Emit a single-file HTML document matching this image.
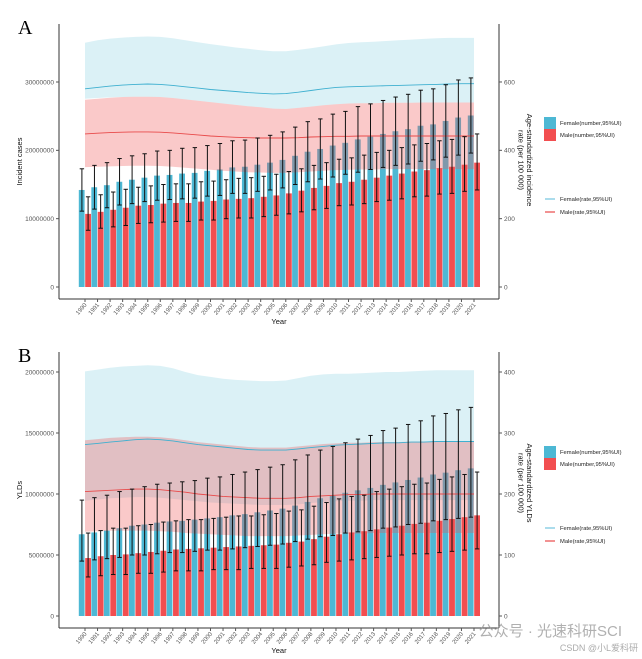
<!DOCTYPE html>
<html><head><meta charset="utf-8">
<style>
html,body{margin:0;padding:0;background:#fff;}
svg{display:block;font-family:"Liberation Sans",sans-serif;}
</style></head>
<body>
<svg id="chart" width="642" height="659" viewBox="0 0 642 659" xmlns="http://www.w3.org/2000/svg"></svg>
<script>
const years = [1990,1991,1992,1993,1994,1995,1996,1997,1998,1999,2000,2001,2002,2003,2004,2005,2006,2007,2008,2009,2010,2011,2012,2013,2014,2015,2016,2017,2018,2019,2020,2021];
// Panel A (millions)
const aFemaleN = [14.2,14.6,14.9,15.4,15.7,16.0,16.3,16.4,16.6,16.7,17.0,17.2,17.5,17.6,17.9,18.2,18.6,19.2,19.8,20.2,20.7,21.1,21.6,22.0,22.4,22.8,23.1,23.6,23.8,24.3,24.8,25.1];
const aFemaleHi = [17.3,17.8,18.2,18.8,19.2,19.5,19.9,20.0,20.3,20.4,20.7,21.0,21.4,21.5,21.8,22.2,22.7,23.4,24.2,24.6,25.3,25.7,26.4,26.8,27.3,27.8,28.2,28.8,29.0,29.6,30.3,30.6];
const aFemaleLo = [11.1,11.4,11.6,12.0,12.2,12.5,12.7,12.8,12.9,13.0,13.3,13.4,13.7,13.7,14.0,14.2,14.5,15.0,15.4,15.8,16.1,16.5,16.8,17.2,17.5,17.8,18.0,18.4,18.6,19.0,19.3,19.6];
const aMaleN = [10.7,11.0,11.3,11.6,11.9,12.0,12.2,12.3,12.3,12.5,12.6,12.8,12.9,13.0,13.2,13.4,13.7,14.1,14.5,14.8,15.2,15.4,15.7,16.0,16.3,16.6,16.9,17.1,17.4,17.6,17.9,18.2];
const aMaleHi = [13.2,13.5,13.9,14.3,14.6,14.8,15.0,15.1,15.1,15.4,15.5,15.7,15.9,16.0,16.2,16.5,16.9,17.3,17.8,18.2,18.7,18.9,19.3,19.7,20.0,20.4,20.8,21.0,21.4,21.6,22.0,22.4];
const aMaleLo = [8.3,8.6,8.8,9.0,9.3,9.4,9.5,9.6,9.6,9.8,9.8,10.0,10.1,10.1,10.3,10.5,10.7,11.0,11.3,11.5,11.9,12.0,12.2,12.5,12.7,12.9,13.2,13.3,13.6,13.7,14.0,14.2];
const aFemaleRate = [580,584,588,591,593,594,593,590,586,582,578,575,572,569,567,565,566,570,575,580,584,586,587,588,589,590,591,592,593,594,595,595];
const aFemaleRateHi = [715,722,727,730,732,733,732,728,722,716,711,706,701,697,693,690,690,694,699,704,710,714,716,718,720,722,724,726,728,729,729,729];
const aFemaleRateLo = [551,553,555,556,557,557,556,553,549,545,541,537,533,529,526,522,521,524,528,532,535,537,538,538,539,539,539,540,540,540,540,540];
const aMaleRate = [448,450,452,453,454,454,453,451,448,445,442,440,438,437,436,436,436,437,439,440,441,441,442,442,442,442,442,442,442,442,442,442];
const aMaleRateHi = [548,551,554,556,557,557,556,553,549,545,541,537,533,529,526,522,521,524,528,532,535,537,538,538,539,539,539,540,540,540,540,540];
const aMaleRateLo = [351,352,353,354,355,355,354,352,349,346,343,340,338,336,335,334,334,336,338,340,342,343,344,344,345,345,345,345,345,345,345,345];
// Panel B (millions)
const bFemaleN = [6.7,6.85,7.0,7.2,7.4,7.5,7.65,7.75,7.8,7.9,8.0,8.1,8.25,8.35,8.5,8.65,8.8,9.05,9.35,9.65,9.85,10.1,10.3,10.5,10.75,10.95,11.15,11.35,11.6,11.75,11.95,12.1];
const bFemaleHi = [9.5,9.7,9.9,10.2,10.4,10.6,10.8,10.9,11.0,11.1,11.3,11.4,11.6,11.8,12.0,12.2,12.4,12.8,13.2,13.6,13.9,14.2,14.5,14.8,15.2,15.4,15.7,16.0,16.4,16.6,16.9,17.1];
const bFemaleLo = [4.5,4.6,4.7,4.8,5.0,5.0,5.1,5.2,5.2,5.3,5.4,5.4,5.5,5.6,5.7,5.8,5.9,6.1,6.3,6.5,6.6,6.8,6.9,7.0,7.2,7.3,7.5,7.6,7.8,7.9,8.0,8.1];
const bMaleN = [4.75,4.9,5.0,5.05,5.15,5.25,5.35,5.45,5.5,5.55,5.6,5.65,5.7,5.75,5.8,5.85,6.0,6.1,6.3,6.5,6.7,6.85,6.95,7.1,7.25,7.4,7.55,7.65,7.8,7.95,8.1,8.25];
const bMaleHi = [6.8,7.0,7.2,7.2,7.4,7.5,7.7,7.8,7.9,7.9,8.0,8.1,8.2,8.2,8.3,8.4,8.6,8.7,9.0,9.3,9.6,9.8,9.9,10.2,10.4,10.6,10.8,10.9,11.2,11.4,11.6,11.8];
const bMaleLo = [3.2,3.3,3.4,3.4,3.5,3.5,3.6,3.7,3.7,3.7,3.8,3.8,3.8,3.9,3.9,3.9,4.0,4.1,4.2,4.4,4.5,4.6,4.7,4.8,4.9,5.0,5.1,5.1,5.2,5.3,5.4,5.5];
const bFemaleRate = [281,283,285,287,289,290,289,287,284,281,279,277,275,273,272,272,272,274,276,278,280,281,282,283,284,284,285,285,286,286,286,286];
const bFemaleRateHi = [401,404,407,409,410,411,410,406,400,395,392,389,387,386,385,385,386,390,394,396,397,397,398,399,400,400,401,402,403,403,403,403];
const bFemaleRateLo = [189,191,193,194,195,195,194,192,190,188,186,185,184,183,182,182,182,183,185,187,188,189,189,190,190,190,190,190,190,190,190,190];
const bMaleRate = [204,205,206,207,208,208,207,205,203,200,198,196,195,194,193,193,193,194,196,197,198,199,199,200,200,200,200,200,200,200,200,200];
const bMaleRateHi = [288,290,292,293,294,294,293,291,288,285,283,281,279,277,276,276,276,278,280,282,283,284,284,285,285,285,286,286,286,286,286,286];
const bMaleRateLo = [138,139,140,140,140,140,139,138,136,135,134,133,132,131,131,131,131,132,133,134,135,135,135,136,136,136,136,136,136,136,136,136];
const aLeftTicks = [0,10,20,30];
const aLeftLabels = ["0","10000000","20000000","30000000"];
const aRightTicks = [0,200,400,600];
const bLeftTicks = [0,5,10,15,20];
const bLeftLabels = ["0","5000000","10000000","15000000","20000000"];
const bRightTicks = [0,100,200,300,400];

const svg = document.getElementById('chart');
const NS = 'http://www.w3.org/2000/svg';
function mk(tag, attrs, parent, text){
  const e = document.createElementNS(NS, tag);
  for (const k in attrs) e.setAttribute(k, attrs[k]);
  if (text !== undefined) e.textContent = text;
  (parent || svg).appendChild(e);
  return e;
}
const FEM = '#4DB8D4', MAL = '#F24E50';

function panel(cfg){
  const g = mk('g', {});
  
  
  const x0 = 59, x1 = 499;
  const xC = i => 85 + i * (474 - 85) / 31;
  const yL = v => cfg.zeroY - v * cfg.pxPerUnit;
  const yR = v => cfg.zeroY - v * cfg.pxPerRate;
  const bw = 6.2;
  // bars
  years.forEach((yr, i) => {
    const xc = xC(i);
    const fb = mk('rect', {x: xc - bw, y: yL(cfg.fN[i]), width: bw - 0.4, height: cfg.zeroY - yL(cfg.fN[i]), fill: FEM}, g);
    
    
    const mb = mk('rect', {x: xc + 0.2, y: yL(cfg.mN[i]), width: bw - 0.4, height: cfg.zeroY - yL(cfg.mN[i]), fill: MAL}, g);
    
    
  });
  // bands
  function band(hi, lo, fill, name){
    let d = '';
    years.forEach((yr, i) => { d += (i ? 'L' : 'M') + xC(i).toFixed(1) + ',' + yR(hi[i]).toFixed(1); });
    for (let i = years.length - 1; i >= 0; i--) d += 'L' + xC(i).toFixed(1) + ',' + yR(lo[i]).toFixed(1);
    const p = mk('path', {d: d + 'Z', fill: fill}, g);
    
    
  }
  band(cfg.fRH, cfg.fRL, 'rgba(77,184,212,0.2)', 'female-rate-ui-band');
  band(cfg.mRH, cfg.mRL, 'rgba(240,80,80,0.31)', 'male-rate-ui-band');
  function line(vals, color, name){
    const pts = years.map((yr, i) => xC(i).toFixed(1) + ',' + yR(vals[i]).toFixed(1)).join(' ');
    const p = mk('polyline', {points: pts, fill: 'none', stroke: color, 'stroke-width': 0.9}, g);
    
    
  }
  line(cfg.fR, '#3FB0D0', 'female-rate-line');
  line(cfg.mR, '#E84A4A', 'male-rate-line');
  // error bars
  function err(hi, lo, off, name){
    years.forEach((yr, i) => {
      const xc = xC(i) + off;
      const eg = mk('g', {stroke: '#111', 'stroke-width': 1}, g);
      
      
      mk('line', {x1: xc, x2: xc, y1: yL(hi[i]), y2: yL(lo[i])}, eg);
      mk('line', {x1: xc - 2.2, x2: xc + 2.2, y1: yL(hi[i]), y2: yL(hi[i])}, eg);
      mk('line', {x1: xc - 2.2, x2: xc + 2.2, y1: yL(lo[i]), y2: yL(lo[i])}, eg);
    });
  }
  err(cfg.fH, cfg.fL, -3.1, 'female-error-bar');
  err(cfg.mH, cfg.mL, 3.1, 'male-error-bar');
  // axes
  const ax = mk('g', {stroke: '#333', 'stroke-width': 1}, g);
  
  
  mk('line', {x1: x0, x2: x0, y1: cfg.top, y2: cfg.bottom}, ax);
  mk('line', {x1: x0, x2: x1, y1: cfg.bottom, y2: cfg.bottom}, ax);
  mk('line', {x1: x1, x2: x1, y1: cfg.top, y2: cfg.bottom}, ax);
  cfg.lt.forEach((t, i) => {
    mk('line', {x1: x0 - 3, x2: x0, y1: yL(t), y2: yL(t), stroke: '#555'}, g);
    const tx = mk('text', {x: x0 - 5, y: yL(t) + 2.3, 'text-anchor': 'end', 'font-size': 6.5, fill: '#555'}, g, cfg.ll[i]);
    
    
  });
  cfg.rt.forEach(t => {
    mk('line', {x1: x1, x2: x1 + 3, y1: yR(t), y2: yR(t), stroke: '#555'}, g);
    const tx = mk('text', {x: x1 + 5, y: yR(t) + 2.3, 'font-size': 6.5, fill: '#555'}, g, String(t));
    
    
  });
  years.forEach((yr, i) => {
    mk('line', {x1: xC(i), x2: xC(i), y1: cfg.bottom, y2: cfg.bottom + 3, stroke: '#555'}, g);
    const tx = mk('text', {x: xC(i) + 2, y: cfg.bottom + 6, 'text-anchor': 'end', 'font-size': 6, fill: '#555', transform: 'rotate(-50 ' + (xC(i) + 2) + ' ' + (cfg.bottom + 6) + ')'}, g, String(yr));
    
    
  });
  const xt = mk('text', {x: 279, y: cfg.bottom + 25, 'text-anchor': 'middle', 'font-size': 7.5, fill: '#111'}, g, 'Year');
  
  
  const ycy = (cfg.top + cfg.bottom) / 2;
  const yt = mk('text', {x: 22, y: ycy, 'text-anchor': 'middle', 'font-size': 7.5, fill: '#111', transform: 'rotate(-90 22 ' + ycy + ')'}, g, cfg.yTitle);
  
  
  const rt = mk('text', {'font-size': 7.5, fill: '#111', 'text-anchor': 'middle', transform: 'translate(527 ' + cfg.rTitleY + ') rotate(90)'}, g);
  
  
  mk('tspan', {x: 0, y: 0}, rt, cfg.rTitle1);
  mk('tspan', {x: 0, y: 8.5}, rt, 'rate (per 100 000)');
  const lab = mk('text', {x: 18, y: cfg.top + 10, 'font-size': 20, 'font-family': '"Liberation Serif", serif', fill: '#000'}, g, cfg.letter);
  
  
  // legend
  const lg = mk('g', {}, g);
  
  
  const ly = cfg.legY;
  mk('rect', {x: 544, y: ly, width: 12, height: 12, fill: FEM}, lg);
  mk('rect', {x: 544, y: ly + 12, width: 12, height: 12, fill: MAL}, lg);
  mk('text', {x: 560, y: ly + 8, 'font-size': 5.8, fill: '#222'}, lg, 'Female(number,95%UI)');
  mk('text', {x: 560, y: ly + 20, 'font-size': 5.8, fill: '#222'}, lg, 'Male(number,95%UI)');
  mk('line', {x1: 545, x2: 555, y1: ly + 82, y2: ly + 82, stroke: '#8FD0E6', 'stroke-width': 1.5}, lg);
  mk('line', {x1: 545, x2: 555, y1: ly + 95, y2: ly + 95, stroke: '#E84A4A', 'stroke-width': 1.2}, lg);
  mk('text', {x: 560, y: ly + 84, 'font-size': 5.8, fill: '#222'}, lg, 'Female(rate,95%UI)');
  mk('text', {x: 560, y: ly + 97, 'font-size': 5.8, fill: '#222'}, lg, 'Male(rate,95%UI)');
}

panel({name:'panel-a', letter:'A', top:24, bottom:299, zeroY:287, pxPerUnit:6.833, pxPerRate:0.3417,
  fN:aFemaleN, fH:aFemaleHi, fL:aFemaleLo, mN:aMaleN, mH:aMaleHi, mL:aMaleLo,
  fR:aFemaleRate, fRH:aFemaleRateHi, fRL:aFemaleRateLo, mR:aMaleRate, mRH:aMaleRateHi, mRL:aMaleRateLo,
  lt:aLeftTicks, ll:aLeftLabels, rt:aRightTicks, yTitle:'Incident cases', rTitle1:'Age-standardized incidence', rTitleY:160, legY:117});
panel({name:'panel-b', letter:'B', top:352, bottom:628, zeroY:616, pxPerUnit:12.2, pxPerRate:0.61,
  fN:bFemaleN, fH:bFemaleHi, fL:bFemaleLo, mN:bMaleN, mH:bMaleHi, mL:bMaleLo,
  fR:bFemaleRate, fRH:bFemaleRateHi, fRL:bFemaleRateLo, mR:bMaleRate, mRH:bMaleRateHi, mRL:bMaleRateLo,
  lt:bLeftTicks, ll:bLeftLabels, rt:bRightTicks, yTitle:'YLDs', rTitle1:'Age-standardized YLDs', rTitleY:483, legY:446});

const wm = mk('text', {x: 622, y: 636, 'text-anchor': 'end', 'font-size': 15, fill: 'rgba(150,150,150,0.75)', 'font-family': '"Liberation Sans","Noto Sans CJK SC",sans-serif'}, svg, '公众号 · 光速科研SCI');


const wm2 = mk('text', {x: 638, y: 651, 'text-anchor': 'end', 'font-size': 9, fill: 'rgba(150,150,150,0.8)', 'font-family': '"Liberation Sans","Noto Sans CJK SC",sans-serif'}, svg, 'CSDN @小L爱科研');


</script>
</body></html>
